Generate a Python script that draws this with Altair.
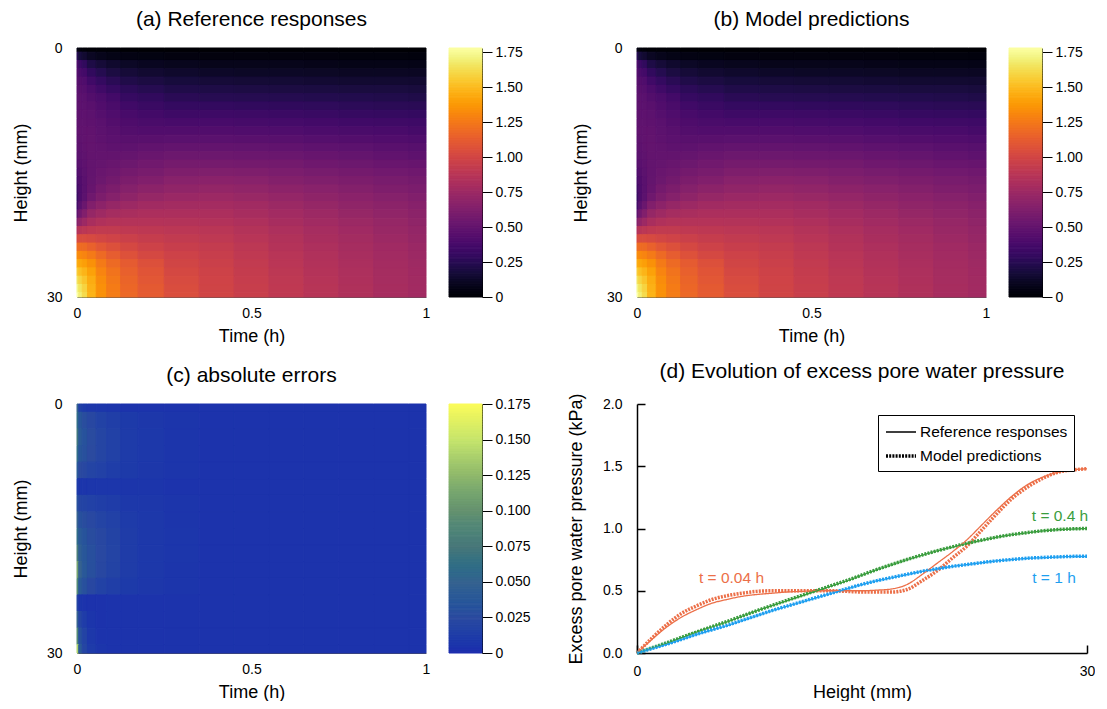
import altair as alt
import pandas as pd
import numpy as np

FONT = "Liberation Sans"

# ---------------- heat-map grids (rows = height, columns = time) ----------------
TIMES = [0.0, 0.01, 0.02, 0.04, 0.07, 0.1, 0.15, 0.2, 0.3, 0.4, 0.5, 0.6, 0.7, 0.8, 0.9, 1.0]
HEIGHTS_U = list(range(31))          # 1 mm rows for panels (a), (b)
HEIGHTS_E = list(range(0, 31, 2))    # 2 mm rows for panel (c)

REF_U = [
    [0.05, 0.03, 0.02, 0.01, 0.01, 0.01, 0.00, 0.00, 0.00, 0.00, 0.00, 0.00, 0.00, 0.00, 0.00, 0.00],
    [0.25, 0.18, 0.15, 0.11, 0.085, 0.07, 0.06, 0.05, 0.045, 0.04, 0.04, 0.04, 0.04, 0.035, 0.035, 0.035],
    [0.40, 0.33, 0.29, 0.21, 0.17, 0.14, 0.12, 0.10, 0.09, 0.08, 0.08, 0.08, 0.075, 0.07, 0.07, 0.07],
    [0.44, 0.39, 0.36, 0.29, 0.24, 0.20, 0.17, 0.15, 0.135, 0.125, 0.12, 0.12, 0.115, 0.11, 0.11, 0.11],
    [0.45, 0.43, 0.41, 0.35, 0.30, 0.26, 0.22, 0.20, 0.18, 0.17, 0.165, 0.16, 0.155, 0.15, 0.15, 0.15],
    [0.46, 0.45, 0.44, 0.40, 0.35, 0.31, 0.27, 0.245, 0.22, 0.21, 0.205, 0.20, 0.195, 0.19, 0.19, 0.185],
    [0.47, 0.47, 0.46, 0.43, 0.40, 0.36, 0.31, 0.29, 0.26, 0.25, 0.245, 0.24, 0.235, 0.23, 0.225, 0.22],
    [0.475, 0.475, 0.47, 0.455, 0.42, 0.39, 0.35, 0.325, 0.30, 0.295, 0.29, 0.285, 0.28, 0.27, 0.265, 0.26],
    [0.48, 0.48, 0.48, 0.47, 0.44, 0.41, 0.38, 0.36, 0.34, 0.34, 0.335, 0.33, 0.32, 0.31, 0.305, 0.30],
    [0.48, 0.485, 0.485, 0.48, 0.46, 0.43, 0.405, 0.39, 0.38, 0.38, 0.375, 0.37, 0.36, 0.35, 0.345, 0.34],
    [0.48, 0.49, 0.49, 0.49, 0.47, 0.45, 0.43, 0.42, 0.42, 0.42, 0.415, 0.41, 0.40, 0.39, 0.385, 0.375],
    [0.475, 0.485, 0.49, 0.495, 0.48, 0.465, 0.455, 0.455, 0.46, 0.46, 0.455, 0.45, 0.44, 0.43, 0.42, 0.41],
    [0.47, 0.48, 0.49, 0.50, 0.49, 0.48, 0.48, 0.49, 0.50, 0.50, 0.495, 0.49, 0.48, 0.47, 0.455, 0.445],
    [0.46, 0.47, 0.485, 0.50, 0.50, 0.50, 0.51, 0.525, 0.54, 0.54, 0.535, 0.53, 0.515, 0.505, 0.49, 0.48],
    [0.44, 0.46, 0.48, 0.50, 0.51, 0.52, 0.54, 0.56, 0.58, 0.58, 0.575, 0.57, 0.55, 0.54, 0.525, 0.515],
    [0.41, 0.44, 0.47, 0.50, 0.525, 0.545, 0.575, 0.595, 0.62, 0.625, 0.62, 0.605, 0.59, 0.575, 0.56, 0.55],
    [0.38, 0.42, 0.46, 0.505, 0.54, 0.57, 0.61, 0.63, 0.66, 0.67, 0.66, 0.64, 0.625, 0.61, 0.595, 0.58],
    [0.35, 0.41, 0.46, 0.515, 0.575, 0.61, 0.65, 0.675, 0.70, 0.71, 0.70, 0.68, 0.66, 0.64, 0.62, 0.605],
    [0.32, 0.41, 0.47, 0.55, 0.61, 0.65, 0.69, 0.72, 0.74, 0.75, 0.735, 0.715, 0.69, 0.67, 0.65, 0.63],
    [0.36, 0.46, 0.53, 0.63, 0.68, 0.72, 0.75, 0.77, 0.78, 0.785, 0.77, 0.745, 0.72, 0.695, 0.675, 0.655],
    [0.48, 0.56, 0.63, 0.72, 0.76, 0.79, 0.81, 0.82, 0.82, 0.82, 0.80, 0.775, 0.75, 0.72, 0.70, 0.675],
    [0.65, 0.70, 0.75, 0.81, 0.84, 0.855, 0.86, 0.86, 0.855, 0.85, 0.83, 0.80, 0.77, 0.745, 0.72, 0.695],
    [0.85, 0.87, 0.89, 0.91, 0.92, 0.92, 0.91, 0.90, 0.89, 0.88, 0.855, 0.825, 0.795, 0.765, 0.735, 0.71],
    [1.03, 1.04, 1.04, 1.03, 1.01, 0.99, 0.965, 0.94, 0.92, 0.905, 0.875, 0.845, 0.81, 0.78, 0.75, 0.725],
    [1.20, 1.20, 1.19, 1.15, 1.10, 1.06, 1.02, 0.98, 0.95, 0.93, 0.895, 0.86, 0.825, 0.795, 0.765, 0.74],
    [1.33, 1.32, 1.30, 1.26, 1.19, 1.13, 1.07, 1.02, 0.98, 0.95, 0.91, 0.875, 0.84, 0.805, 0.775, 0.75],
    [1.45, 1.43, 1.40, 1.35, 1.26, 1.19, 1.12, 1.06, 1.00, 0.965, 0.925, 0.885, 0.85, 0.815, 0.785, 0.76],
    [1.56, 1.52, 1.48, 1.41, 1.30, 1.23, 1.145, 1.085, 1.02, 0.98, 0.935, 0.895, 0.86, 0.825, 0.79, 0.765],
    [1.65, 1.60, 1.54, 1.45, 1.33, 1.25, 1.165, 1.10, 1.035, 0.99, 0.945, 0.905, 0.865, 0.83, 0.795, 0.77],
    [1.73, 1.66, 1.59, 1.47, 1.345, 1.265, 1.175, 1.115, 1.045, 0.995, 0.95, 0.91, 0.87, 0.835, 0.80, 0.775],
    [1.78, 1.70, 1.62, 1.48, 1.35, 1.27, 1.18, 1.12, 1.05, 1.00, 0.955, 0.91, 0.87, 0.835, 0.80, 0.775],
]

ERR_U = [
    [0.050, 0.015, 0.010, 0.008, 0.007, 0.006, 0.005, 0.005, 0.005, 0.005, 0.005, 0.005, 0.005, 0.005, 0.005, 0.005],
    [0.060, 0.035, 0.028, 0.022, 0.017, 0.014, 0.010, 0.008, 0.006, 0.005, 0.005, 0.005, 0.005, 0.005, 0.005, 0.005],
    [0.070, 0.040, 0.032, 0.026, 0.020, 0.016, 0.011, 0.009, 0.006, 0.005, 0.005, 0.005, 0.005, 0.005, 0.005, 0.005],
    [0.060, 0.035, 0.030, 0.025, 0.020, 0.016, 0.011, 0.009, 0.006, 0.005, 0.005, 0.005, 0.005, 0.005, 0.005, 0.005],
    [0.040, 0.025, 0.022, 0.019, 0.016, 0.013, 0.010, 0.008, 0.006, 0.005, 0.005, 0.005, 0.005, 0.005, 0.005, 0.005],
    [0.010, 0.006, 0.006, 0.007, 0.007, 0.007, 0.006, 0.006, 0.005, 0.005, 0.005, 0.005, 0.005, 0.005, 0.005, 0.005],
    [0.030, 0.020, 0.018, 0.016, 0.014, 0.012, 0.009, 0.008, 0.006, 0.005, 0.005, 0.005, 0.005, 0.005, 0.005, 0.005],
    [0.050, 0.030, 0.027, 0.023, 0.019, 0.016, 0.011, 0.009, 0.006, 0.005, 0.005, 0.005, 0.005, 0.005, 0.005, 0.005],
    [0.060, 0.040, 0.033, 0.027, 0.022, 0.018, 0.012, 0.009, 0.007, 0.005, 0.005, 0.005, 0.005, 0.005, 0.005, 0.005],
    [0.080, 0.045, 0.036, 0.029, 0.023, 0.019, 0.012, 0.009, 0.007, 0.005, 0.005, 0.005, 0.005, 0.005, 0.005, 0.005],
    [0.110, 0.050, 0.038, 0.029, 0.022, 0.018, 0.012, 0.009, 0.006, 0.005, 0.005, 0.005, 0.005, 0.005, 0.005, 0.005],
    [0.090, 0.040, 0.030, 0.022, 0.017, 0.014, 0.010, 0.008, 0.006, 0.005, 0.005, 0.005, 0.005, 0.005, 0.005, 0.005],
    [0.020, 0.006, 0.005, 0.004, 0.004, 0.005, 0.005, 0.005, 0.005, 0.005, 0.005, 0.005, 0.005, 0.005, 0.005, 0.005],
    [0.050, 0.020, 0.012, 0.006, 0.004, 0.005, 0.005, 0.005, 0.005, 0.005, 0.005, 0.005, 0.005, 0.005, 0.005, 0.005],
    [0.090, 0.030, 0.018, 0.009, 0.005, 0.005, 0.005, 0.005, 0.005, 0.005, 0.005, 0.005, 0.005, 0.005, 0.005, 0.005],
    [0.140, 0.040, 0.020, 0.011, 0.006, 0.005, 0.005, 0.005, 0.005, 0.005, 0.005, 0.005, 0.005, 0.005, 0.005, 0.005],
]

# ---------------- profiles for panel (d) ----------------
PROFILE_H = list(range(31))
U004_REF = [0.00, 0.11, 0.21, 0.29, 0.35, 0.40, 0.43, 0.455, 0.47, 0.48, 0.49, 0.495, 0.50, 0.50, 0.50, 0.50,
            0.505, 0.515, 0.55, 0.63, 0.72, 0.81, 0.91, 1.03, 1.15, 1.26, 1.35, 1.41, 1.45, 1.47, 1.48]
U004_PRED = [0.00, 0.12, 0.23, 0.32, 0.38, 0.43, 0.46, 0.48, 0.495, 0.50, 0.50, 0.50, 0.50, 0.50, 0.495, 0.49,
             0.49, 0.49, 0.51, 0.58, 0.66, 0.76, 0.86, 0.99, 1.12, 1.24, 1.33, 1.40, 1.45, 1.47, 1.48]
U04_REF = [0.00, 0.04, 0.08, 0.125, 0.17, 0.21, 0.25, 0.295, 0.34, 0.38, 0.42, 0.46, 0.50, 0.54, 0.58, 0.625,
           0.67, 0.71, 0.75, 0.785, 0.82, 0.85, 0.88, 0.905, 0.93, 0.95, 0.965, 0.98, 0.99, 0.995, 1.00]
U04_PRED = [0.00, 0.042, 0.083, 0.127, 0.17, 0.212, 0.253, 0.297, 0.34, 0.382, 0.423, 0.463, 0.503, 0.543, 0.583,
            0.627, 0.671, 0.712, 0.751, 0.787, 0.821, 0.852, 0.881, 0.907, 0.931, 0.951, 0.967, 0.981, 0.991, 0.997, 1.00]
U1_REF = [0.00, 0.035, 0.07, 0.11, 0.15, 0.185, 0.22, 0.26, 0.30, 0.34, 0.375, 0.41, 0.445, 0.48, 0.515, 0.55,
          0.58, 0.605, 0.63, 0.655, 0.675, 0.695, 0.71, 0.725, 0.74, 0.75, 0.76, 0.765, 0.77, 0.775, 0.775]
U1_PRED = [0.00, 0.036, 0.072, 0.111, 0.151, 0.187, 0.222, 0.262, 0.301, 0.341, 0.377, 0.412, 0.447, 0.482, 0.517,
           0.551, 0.581, 0.607, 0.632, 0.656, 0.676, 0.695, 0.711, 0.726, 0.74, 0.751, 0.761, 0.767, 0.772, 0.776, 0.777]

SERIES = ["t = 0.04 h", "t = 0.4 h", "t = 1 h"]
SERIES_COLORS = ["#ec6f48", "#3a9d3e", "#1e9ff0"]
LABEL_X = [6.3, 28.2, 27.8]
LABEL_Y = [0.60, 1.10, 0.60]
KINDS = ["Reference responses", "Model predictions"]

U_TICKS = [0, 0.25, 0.5, 0.75, 1.0, 1.25, 1.5, 1.75]
E_TICKS = [0, 0.025, 0.05, 0.075, 0.1, 0.125, 0.15, 0.175]
U_MAX = 1.78
E_MAX = 0.175
ERR_COLORS = ["#1d2cae", "#2b4a9f", "#36628f", "#487779", "#65916f", "#8fb86b", "#c6e46b", "#fbfb5a"]

# ---------------- build tables ----------------
def edges(vals, lo, hi):
    mids = [(a + b) / 2 for a, b in zip(vals[:-1], vals[1:])]
    return [lo] + mids, mids + [hi]

T0, T1 = edges(TIMES, 0.0, 1.0)

def grid_df(grid, heights):
    z0, z1 = edges(heights, 0.0, 30.0)
    rows = []
    for i in range(len(heights)):
        for j in range(len(TIMES)):
            rows.append({"t0": T0[j], "t1": T1[j], "z0": z0[i], "z1": z1[i], "v": grid[i][j]})
    return pd.DataFrame(rows)

ref_df = grid_df(REF_U, HEIGHTS_U)
err_df = grid_df(ERR_U, HEIGHTS_E)

def bar_df(vmax, n=150):
    lv = np.linspace(0, vmax, n + 1)
    return pd.DataFrame({"lo": lv[:-1], "hi": lv[1:], "mid": (lv[:-1] + lv[1:]) / 2})

u_scale = alt.Scale(scheme="inferno", domain=[0, U_MAX], clamp=True)
e_scale = alt.Scale(domain=E_TICKS, range=ERR_COLORS, clamp=True)

W_HEAT, H_ALL, W_CB, W_D = 349, 249, 33, 450

def title(text):
    return alt.TitleParams(text, fontSize=21, font=FONT, fontWeight="normal", offset=11,
                           anchor="middle", frame="group", color="black")

def heat_panel(df, scale, ttl):
    return alt.Chart(df).mark_rect(strokeWidth=1).encode(
        x=alt.X("t0:Q", scale=alt.Scale(domain=[0, 1], nice=False, zero=False),
                axis=alt.Axis(values=[0, 0.5, 1], format="~g", title="Time (h)", ticks=False,
                              labelPadding=9, titlePadding=7, labelFlush=False,
                              domainColor="#555", grid=False)),
        x2="t1:Q",
        y=alt.Y("z0:Q", scale=alt.Scale(domain=[0, 30], reverse=True, nice=False, zero=False),
                axis=alt.Axis(values=[0, 30], format="d", title="Height (mm)", ticks=False,
                              labelPadding=15, titlePadding=16, labelFlush=False,
                              domainColor="#555", grid=False)),
        y2="z1:Q",
        color=alt.Color("v:Q", scale=scale, legend=None),
        stroke=alt.Stroke("v:Q", scale=scale, legend=None),
    ).properties(width=W_HEAT, height=H_ALL, title=title(ttl))

def colorbar(scale, vmax, ticks, fmt):
    return alt.Chart(bar_df(vmax)).mark_rect(strokeWidth=1).encode(
        x=alt.value(0), x2=alt.value(W_CB),
        y=alt.Y("lo:Q", scale=alt.Scale(domain=[0, vmax], nice=False, zero=False),
                axis=alt.Axis(orient="right", values=ticks,
                              labelExpr="datum.value == 0 ? '0' : format(datum.value, '" + fmt + "')",
                              tickSize=10, tickColor="black", domainColor="black", title=None,
                              labelPadding=3, labelFlush=False, grid=False)),
        y2="hi:Q",
        color=alt.Color("mid:Q", scale=scale, legend=None),
        stroke=alt.Stroke("mid:Q", scale=scale, legend=None),
    ).properties(width=W_CB, height=H_ALL, title=title(" "))

# ---------------- panel (d) ----------------
series_cols = [(SERIES[0], KINDS[0], U004_REF), (SERIES[0], KINDS[1], U004_PRED),
               (SERIES[1], KINDS[0], U04_REF), (SERIES[1], KINDS[1], U04_PRED),
               (SERIES[2], KINDS[0], U1_REF), (SERIES[2], KINDS[1], U1_PRED)]
line_rows = []
for s, k, vals in series_cols:
    for h, v in zip(PROFILE_H, vals):
        line_rows.append({"h": h, "v": v, "series": s, "kind": k})
line_df = pd.DataFrame(line_rows)
label_df = pd.DataFrame({"x": LABEL_X, "y": LABEL_Y, "label": SERIES})

xsc = alt.Scale(domain=[0, 30], nice=False, zero=False)
ysc = alt.Scale(domain=[0, 2], nice=False, zero=False)
col = alt.Color("series:N", scale=alt.Scale(domain=SERIES, range=SERIES_COLORS), legend=None)
leg = alt.Legend(title=None, orient="none", legendX=W_D - 209, legendY=11, padding=6, strokeColor="black",
                 fillColor="white", labelFont=FONT, labelFontSize=15.5, labelColor="black",
                 symbolType="M-1.5,0L1.5,0", symbolSize=400, symbolOffset=5,
                 symbolStrokeColor="black", symbolFillColor="transparent",
                 rowPadding=3, labelOffset=7)
dash = alt.StrokeDash("kind:N", scale=alt.Scale(domain=KINDS, range=[[1, 0], [2, 1.2]]), legend=leg)
wid = alt.StrokeWidth("kind:N", scale=alt.Scale(domain=KINDS, range=[1.3, 3.5]), legend=leg)

base = alt.Chart(line_df)
tick_layer = base.mark_point(opacity=0).encode(
    x=alt.X("h:Q", scale=xsc, axis=alt.Axis(orient="top", offset=-H_ALL, values=[0, 30], tickSize=8,
                                            labels=False, domain=False, title=None, tickColor="black",
                                            tickWidth=1.5, grid=False)),
    y=alt.Y("v:Q", scale=ysc, axis=alt.Axis(orient="right", offset=-W_D, values=[0, 0.5, 1, 1.5, 2],
                                            tickSize=8, labels=False, domain=False, title=None,
                                            tickColor="black", tickWidth=1.5, grid=False)),
)
pred_layer = base.transform_filter(alt.datum.kind == KINDS[1]).mark_line(interpolate="monotone").encode(
    x=alt.X("h:Q", scale=xsc, axis=alt.Axis(values=[0, 30], format="d", title="Height (mm)", ticks=False,
                                            labelPadding=11, titlePadding=5, labelFlush=False,
                                            domainColor="black", domainWidth=1.5, grid=False)),
    y=alt.Y("v:Q", scale=ysc, axis=alt.Axis(values=[0, 0.5, 1, 1.5, 2], format=".1f",
                                            title="Excess pore water pressure (kPa)", ticks=False,
                                            labelPadding=15, titlePadding=17, labelFlush=False,
                                            domainColor="black", domainWidth=1.5, grid=False)),
    color=col, strokeDash=dash, strokeWidth=wid,
)
ref_layer = base.transform_filter(alt.datum.kind == KINDS[0]).mark_line(interpolate="monotone").encode(
    x=alt.X("h:Q", scale=xsc, axis=None),
    y=alt.Y("v:Q", scale=ysc, axis=None),
    color=col, strokeDash=dash, strokeWidth=wid,
)
text_layer = alt.Chart(label_df).mark_text(fontSize=15.5, font=FONT).encode(
    x=alt.X("x:Q", scale=xsc, axis=None),
    y=alt.Y("y:Q", scale=ysc, axis=None),
    text="label:N",
    color=alt.Color("label:N", scale=alt.Scale(domain=SERIES, range=SERIES_COLORS), legend=None),
)
panel_d = alt.layer(tick_layer, pred_layer, ref_layer, text_layer).resolve_axis(
    x="independent", y="independent").properties(
    width=W_D, height=H_ALL, title=title("(d) Evolution of excess pore water pressure"))

# ---------------- layout ----------------
pa = heat_panel(ref_df, u_scale, "(a) Reference responses")
pb = heat_panel(ref_df, u_scale, "(b) Model predictions")
pc = heat_panel(err_df, e_scale, "(c) absolute errors")

ga = alt.hconcat(pa, colorbar(u_scale, U_MAX, U_TICKS, ".2f"), spacing=18)
gb = alt.hconcat(pb, colorbar(u_scale, U_MAX, U_TICKS, ".2f"), spacing=18)
gc = alt.hconcat(pc, colorbar(e_scale, E_MAX, E_TICKS, ".3f"), spacing=18)

row1 = alt.hconcat(ga, gb, spacing=49)
row2 = alt.hconcat(gc, panel_d, spacing=36).resolve_scale(
    strokeDash="independent", strokeWidth="independent", color="independent", stroke="independent"
).resolve_legend(strokeDash="independent", strokeWidth="independent")

chart = alt.vconcat(row1, row2, spacing=15).properties(
    padding={"left": 4, "top": 1, "right": 0, "bottom": 0}
).configure(font=FONT).configure_axis(
    labelFont=FONT, titleFont=FONT, labelFontSize=14, titleFontSize=18, titleFontWeight="normal",
    labelColor="black", titleColor="black"
).configure_view(stroke=None).resolve_scale(
    color="independent", stroke="independent", strokeDash="independent", strokeWidth="independent"
).resolve_legend(strokeDash="independent", strokeWidth="independent")

chart.save("out.html", embed_options={"renderer": "svg", "actions": False})
